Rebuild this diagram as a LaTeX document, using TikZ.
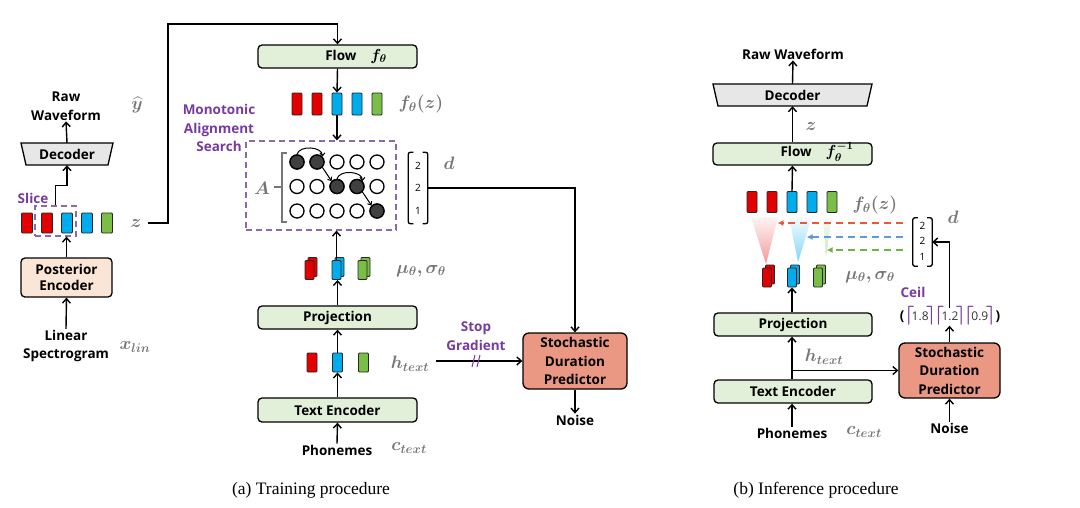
\documentclass[tikz,border=0pt]{standalone}
\usepackage{fix-cm}
\usepackage{amsmath,bm}
\usepackage{fontspec}
\setsansfont{Open Sans}
\newfontfamily\capfont{Liberation Serif}
\usetikzlibrary{arrows.meta,calc}

\definecolor{boxgreen}{RGB}{226,240,217}
\definecolor{peach}{RGB}{251,229,214}
\definecolor{sdpred}{RGB}{234,152,131}
\definecolor{decgray}{RGB}{231,231,231}
\definecolor{blkred}{RGB}{226,0,0}
\definecolor{blkblue}{RGB}{0,172,236}
\definecolor{blkgreen}{RGB}{122,190,72}
\definecolor{masviolet}{RGB}{118,58,160}
\definecolor{masdash}{RGB}{140,105,170}
\definecolor{mathgray}{RGB}{118,118,118}
\definecolor{dashred}{RGB}{232,88,58}
\definecolor{dashblue}{RGB}{90,155,213}
\definecolor{dashgreen}{RGB}{112,178,70}

\newcommand\lblfont{\sffamily\bfseries\fontsize{13.5}{18.5}\selectfont}
\newcommand\numfont{\sffamily\fontsize{10}{11}\selectfont}
% two offset blocks: name, x, y, colour
\newcommand\stackblk[4]{%
  \node[sblk, fill=#4] (#1b) at (#2+3,#3-3) {};
  \node[sblk, fill=#4] (#1) at (#2,#3) {};}
\newcommand\ceilbr[1]{\textcolor{masviolet}{\fontsize{19}{19}\selectfont$\bm{\lceil}$}\kern-2.5pt{\mdseries\color{black!80}\fontsize{12}{13}\selectfont #1}\kern-2.5pt\textcolor{masviolet}{\fontsize{19}{19}\selectfont$\bm{\rceil}$}\kern-1.5pt}

\begin{document}
\begin{tikzpicture}[x=1pt,y=-1pt,
  box/.style={draw, line width=1.3pt, rounded corners=4pt, fill=boxgreen, inner sep=0pt, font=\lblfont, align=center},
  blk/.style={draw=black!85, line width=0.9pt, rounded corners=1pt, inner sep=0pt, minimum width=10pt, minimum height=21pt},
  sblk/.style={blk, minimum width=9pt, minimum height=19pt},
  arr/.style={-{Straight Barb[length=4.5pt,width=8pt]}, line width=1.4pt},
  garr/.style={-{Straight Barb[length=3pt,width=5pt]}, line width=1pt},
  darr/.style={-{Latex[length=6pt,width=6pt]}, line width=1.4pt, dash pattern=on 7pt off 5pt},
  txt/.style={font=\lblfont, align=center, inner sep=1pt},
  purp/.style={font=\lblfont, text=masviolet, align=center, inner sep=1pt},
  mth/.style={text=mathgray, font=\fontsize{18}{20}\selectfont, inner sep=1pt},
  dot/.style={circle, draw, line width=1.3pt, minimum size=14pt, inner sep=0pt, fill=white},
  full/.style={dot, fill=black!75},
  dashbox/.style={draw=masdash, line width=1.2pt, dash pattern=on 6pt off 4pt, inner sep=0pt},
  num/.style={font=\numfont, inner sep=0pt},
]
\useasboundingbox (0,0) rectangle (1080,507);

%% (a) training: posterior branch
\node[txt] (rawA) at (66,106) {Raw\\Waveform};
\node[mth] (yhatA) at (137,105) {$\bm{\widehat{y}}$};
\draw[line width=1.3pt, fill=decgray] (21,143) -- (113,143) -- (108,165) -- (26,165) -- cycle;
\node[txt, minimum width=82pt, minimum height=22pt] (decA) at (67,154) {Decoder};
\draw[arr] (decA.north) -- (rawA.south);
\foreach \x/\c [count=\i] in {27/blkred,47/blkred,67/blkblue,87/blkblue,107/blkgreen}
  \node[blk, fill=\c, minimum width=11pt, minimum height=20pt] (zs\i) at (\x,223) {};
\node[dashbox, minimum width=41pt, minimum height=30pt] (sliceA) at (55.5,221) {};
\node[purp] (sliceL) at (33,198) {Slice};
\node[mth] (zA) at (136,223) {$\bm{z}$};
\node[box, fill=peach, minimum width=91pt, minimum height=39pt] (postA) at (66.5,277.5) {Posterior\\[-3pt]Encoder};
\node[txt] (linA) at (66,346) {Linear\\Spectrogram};
\node[mth] (xlinA) at (135,347) {$\bm{x_{lin}}$};
\draw[arr] (linA.north) -- (postA.south);
\draw[arr] (postA.north) -- (postA.north |- sliceA.south);
\draw[arr] (sliceA.north) -- ++(0,-20) -| (decA.south);

%% (a) training: flow and alignment
\node[box, minimum width=159pt, minimum height=23pt] (flowA) at (337.5,56.5) {};
\node[txt] (flowAt) at (356,56) {Flow\hspace{14pt}{\fontsize{16}{18}\selectfont$\bm{f_\theta}$}};
\coordinate (zturn) at (168,24);
\draw[arr] ([xshift=5pt]zA.east) -| (zturn) -| (flowA.north);
\foreach \x/\c [count=\i] in {297/blkred,317/blkred,337/blkblue,357/blkblue,377/blkgreen}
  \node[blk, fill=\c, minimum height=22pt] (fzA\i) at (\x,104) {};
\node[mth] (fzAl) at (421,104) {$\bm{f_\theta(z)}$};
\draw[arr] (flowA.south) -- (fzA3.north);
\node[purp] (masL) at (219,128) {Monotonic\\Alignment\\Search};
\node[dashbox, minimum width=150pt, minimum height=89pt] (masA) at (321,185.5) {};
\draw[arr] (fzA3.south) -- (masA.north -| fzA3.south);
\foreach \r/\y in {1/162,2/186.5,3/211}
  \foreach \c in {1,...,5}
    \node[dot] (c\r\c) at (277+20*\c,\y) {};
\foreach \r/\c in {1/1,1/2,2/3,2/4,3/5}
  \node[full] (f\r\c) at (c\r\c) {};
\draw[garr] (c11.north) to[out=75,in=90] (c12.north east);
\draw[garr] (c12.south east) -- (c23.north west);
\draw[garr] (c23.north) to[out=75,in=90] (c24.north east);
\draw[garr] (c24.south east) -- (c35.north west);
\draw[mathgray, line width=1.3pt] (287,153) -- (282,153) -- (282,222) -- (287,222);
\draw[mathgray, line width=1.3pt] (274,187) -- (282,187);
\node[mth] (Alab) at (262,188) {$\bm{A}$};
\node[minimum width=19pt, minimum height=71pt, inner sep=0pt] (dmatA) at (418,188) {};
\draw[line width=1.3pt, rounded corners=2pt] ([xshift=5pt]dmatA.north west) -- (dmatA.north west) -- (dmatA.south west) -- ([xshift=5pt]dmatA.south west);
\draw[line width=1.3pt, rounded corners=2pt] ([xshift=-5pt]dmatA.north east) -- (dmatA.north east) -- (dmatA.south east) -- ([xshift=-5pt]dmatA.south east);
\foreach \v/\y [count=\i] in {2/166,2/188,1/211}
  \node[num] (dA\i) at (418,\y) {\v};
\node[mth] (dAl) at (449,163) {$\bm{d}$};

%% (a) training: text branch
\stackblk{muA1}{309.5}{270}{blkred}
\stackblk{muA2}{336.5}{270}{blkblue}
\stackblk{muA3}{362.5}{270}{blkgreen}
\node[mth] (muAl) at (421,271) {$\bm{\mu_\theta,\sigma_\theta}$};
\draw[arr] (muA2.north) -- (muA2.north |- masA.south);
\node[box, minimum width=159pt, minimum height=23pt] (projA) at (337.5,317.5) {Projection};
\draw[arr] (projA.north) -- (projA.north |- muA2.south);
\foreach \x/\c [count=\i] in {312/blkred,337.5/blkblue,363.5/blkgreen}
  \node[blk, fill=\c, minimum height=19pt] (hA\i) at (\x,362.5) {};
\node[mth] (hAl) at (410,364) {$\bm{h_{text}}$};
\draw[arr] (hA2.north) -- (projA.south);
\node[box, minimum width=159pt, minimum height=24pt] (encA) at (337.5,410) {Text Encoder};
\draw[arr] (encA.north) -- (hA2.south);
\node[txt] (phonA) at (337,450) {Phonemes};
\node[mth] (cAl) at (409,448) {$\bm{c_{text}}$};
\draw[arr] (phonA.north) -- (encA.south);
\node[box, fill=sdpred, rounded corners=6pt, minimum width=104pt, minimum height=56pt] (sdpA) at (575,361) {Stochastic\\Duration\\Predictor};
\draw[arr] ([xshift=6pt]hAl.east |- sdpA.west) -- (sdpA.west);
\coordinate (sgA) at (477,361);
\draw[masviolet, line width=1pt] (sgA) ++(-5,6) -- ++(3,-12) (sgA) ++(0,6) -- ++(3,-12);
\node[purp] (sgL) at (476,336) {Stop\\Gradient};
\node[txt] (noiseA) at (575,420) {Noise};
\draw[arr] (sdpA.south) -- (noiseA.north);
\draw[arr] (dmatA.east) -| (sdpA.north);

%% (b) inference
\node[txt] (rawB) at (793,54) {Raw Waveform};
\draw[line width=1.3pt, fill=decgray] (713,84) -- (872,84) -- (867,106) -- (718,106) -- cycle;
\node[txt, minimum width=149pt, minimum height=22pt] (decB) at (792.5,95) {Decoder};
\draw[arr] (decB.north) -- (rawB.south);
\node[mth] (zB) at (811,126) {$\bm{z}$};
\node[box, minimum width=159pt, minimum height=22pt] (flowB) at (792.5,154) {};
\node[txt] (flowBt) at (817,152) {Flow\hspace{14pt}{\fontsize{16}{18}\selectfont$\bm{f_\theta^{-1}}$}};
\draw[arr] (flowB.north) -- (decB.south);
\foreach \x/\c [count=\i] in {752/blkred,772/blkred,792/blkblue,812/blkblue,832/blkgreen}
  \node[blk, fill=\c] (fzB\i) at (\x,202) {};
\node[mth] (fzBl) at (875,205) {$\bm{f_\theta(z)}$};
\draw[arr] (fzB3.north) -- (flowB.south);
\shade[top color=blkred!4, bottom color=blkred!40] (751,217) -- (778,217) -- (766,264) -- cycle;
\shade[top color=blkblue!4, bottom color=blkblue!50] (789,217) -- (812,217) -- (798,262) -- cycle;
\shade[top color=blkgreen!4, bottom color=blkgreen!40] (823,217) -- (832,217) -- (826,257) -- cycle;
\node[minimum width=19pt, minimum height=48pt, inner sep=0pt] (dmatB) at (922.5,242) {};
\draw[line width=1.3pt, rounded corners=2pt] ([xshift=5pt]dmatB.north west) -- (dmatB.north west) -- (dmatB.south west) -- ([xshift=5pt]dmatB.south west);
\draw[line width=1.3pt, rounded corners=2pt] ([xshift=-5pt]dmatB.north east) -- (dmatB.north east) -- (dmatB.south east) -- ([xshift=-5pt]dmatB.south east);
\foreach \v/\y [count=\i] in {2/226,2/241,1/257}
  \node[num] (dB\i) at (922.5,\y) {\v};
\node[mth] (dBl) at (953,217) {$\bm{d}$};
\coordinate (dsB1) at (903,223);
\coordinate (dsB2) at (903,237);
\coordinate (dsB3) at (903,250);
\draw[darr, dashred] (dsB1) -- (dsB1 -| fzB2.east);
\draw[darr, dashblue] (dsB2) -- (dsB2 -| fzB4.west);
\draw[darr, dashgreen] (dsB3) -- (dsB3 -| fzB5.west);
\stackblk{muB1}{767}{277.5}{blkred}
\stackblk{muB2}{792}{277.5}{blkblue}
\stackblk{muB3}{818}{277.5}{blkgreen}
\node[mth] (muBl) at (870,277) {$\bm{\mu_\theta,\sigma_\theta}$};
\node[box, minimum width=158pt, minimum height=23pt] (projB) at (793,324.5) {Projection};
\draw[arr] (projB.north -| muB2.south) -- (muB2.south);
\node[box, minimum width=158pt, minimum height=23pt] (encB) at (793,391.5) {Text Encoder};
\draw[arr] (encB.north -| muB2.south) -- (projB.south -| muB2.south);
\node[mth] (hBl) at (824,357) {$\bm{h_{text}}$};
\node[txt] (phonB) at (792,433) {Phonemes};
\node[mth] (cBl) at (864,432) {$\bm{c_{text}}$};
\draw[arr] (phonB.north) -- (phonB.north |- encB.south);
\node[box, fill=sdpred, rounded corners=6pt, minimum width=101pt, minimum height=55pt] (sdpB) at (949.5,370.5) {Stochastic\\Duration\\Predictor};
\draw[arr] (muB2.south |- sdpB.west) -- (sdpB.west);
\node[txt] (noiseB) at (949.5,428) {Noise};
\draw[arr] (noiseB.north) -- (sdpB.south);
\node[purp] (ceilL) at (913,292) {Ceil};
\node[font=\lblfont, inner sep=0pt] (ceilB) at (950,316) {(\ceilbr{1.8}\ceilbr{1.2}\ceilbr{0.9}\kern1.5pt)};
\draw[arr] (sdpB.north) -- (ceilB.south -| sdpB.north);
\draw[arr] ([yshift=-2pt]ceilB.north -| sdpB.north) |- (dmatB.east);

%% captions
\node[font=\capfont\fontsize{17.5}{20}\selectfont] (capA) at (311,490) {(a) Training procedure};
\node[font=\capfont\fontsize{17.5}{20}\selectfont] (capB) at (816,490) {(b) Inference procedure};
\end{tikzpicture}
\end{document}
